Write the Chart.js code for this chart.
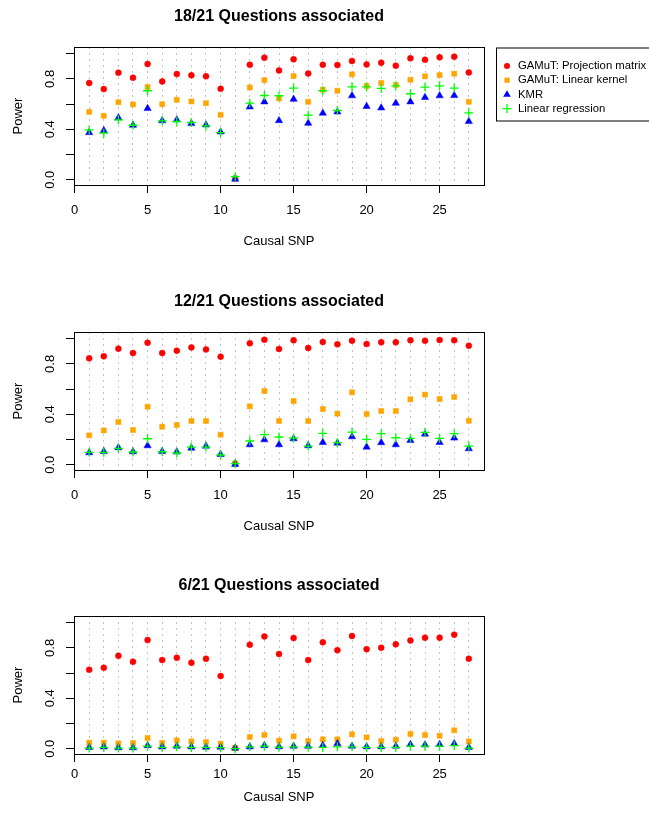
<!DOCTYPE html>
<html>
<head>
<meta charset="utf-8">
<script src="https://cdn.jsdelivr.net/npm/chart.js@4"></script>
<style>
  html, body { margin: 0; padding: 0; background: #fff; overflow: hidden; }
  #wrap { position: relative; width: 649px; height: 817px; }
  canvas { position: absolute; left: 0; }
</style>
</head>
<body>
<div id="wrap">
  <canvas id="c1" width="649" height="285" style="top:0px"></canvas>
  <canvas id="c2" width="649" height="285" style="top:285px"></canvas>
  <canvas id="c3" width="649" height="285" style="top:569px"></canvas>
</div>
<script>
const snps = [1,2,3,4,5,6,7,8,9,10,11,12,13,14,15,16,17,18,19,20,21,22,23,24,25,26,27];
const xTicks = [0, 5, 10, 15, 20, 25];
const yTicks = [0, 0.2, 0.4, 0.6, 0.8, 1.0];
const yLabels = [0, 0.4, 0.8];
const seriesNames = ['GAMuT: Projection matrix', 'GAMuT: Linear kernel', 'KMR', 'Linear regression'];

// 18/21 questions associated
const proj18 = [0.767,0.719,0.849,0.809,0.918,0.780,0.838,0.828,0.820,0.721,0.01,0.912,0.968,0.867,0.955,0.843,0.912,0.910,0.942,0.915,0.928,0.905,0.963,0.952,0.971,0.976,0.851];
const lin18  = [0.538,0.507,0.615,0.597,0.735,0.599,0.634,0.621,0.607,0.515,0.01,0.732,0.790,0.645,0.822,0.618,0.714,0.706,0.836,0.743,0.767,0.751,0.793,0.820,0.830,0.841,0.618];
const kmr18  = [0.374,0.390,0.491,0.432,0.565,0.469,0.475,0.446,0.435,0.379,0.005,0.578,0.618,0.469,0.639,0.448,0.528,0.538,0.666,0.581,0.570,0.607,0.618,0.653,0.666,0.668,0.462];
const reg18  = [0.395,0.369,0.475,0.432,0.706,0.467,0.462,0.454,0.427,0.374,0.024,0.607,0.668,0.666,0.727,0.512,0.706,0.549,0.737,0.737,0.724,0.745,0.682,0.735,0.745,0.727,0.531];

// 12/21 questions associated
const proj12 = [0.844,0.860,0.921,0.886,0.968,0.886,0.905,0.931,0.915,0.857,0.01,0.963,0.992,0.918,0.987,0.926,0.974,0.955,0.984,0.958,0.971,0.971,0.987,0.984,0.989,0.987,0.944];
const lin12  = [0.233,0.272,0.339,0.275,0.460,0.302,0.315,0.347,0.347,0.238,0.01,0.463,0.585,0.347,0.505,0.347,0.442,0.405,0.574,0.402,0.426,0.426,0.519,0.556,0.521,0.537,0.349];
const kmr12  = [0.095,0.106,0.135,0.103,0.151,0.106,0.101,0.132,0.148,0.082,0.003,0.159,0.198,0.159,0.206,0.151,0.177,0.172,0.222,0.140,0.175,0.159,0.193,0.243,0.177,0.212,0.127];
const reg12  = [0.098,0.098,0.130,0.101,0.206,0.103,0.093,0.140,0.140,0.077,0.008,0.188,0.238,0.220,0.212,0.148,0.249,0.175,0.259,0.201,0.246,0.214,0.209,0.257,0.209,0.246,0.148];

// 6/21 questions associated
const proj6 = [0.626,0.642,0.737,0.690,0.862,0.703,0.721,0.682,0.714,0.576,0.005,0.825,0.891,0.751,0.878,0.703,0.844,0.782,0.894,0.790,0.801,0.828,0.859,0.881,0.881,0.905,0.714];
const lin6  = [0.048,0.048,0.042,0.045,0.085,0.045,0.066,0.058,0.053,0.040,0.005,0.093,0.109,0.064,0.098,0.061,0.074,0.074,0.114,0.090,0.061,0.072,0.117,0.109,0.103,0.146,0.058];
const kmr6  = [0.010,0.015,0.008,0.008,0.025,0.015,0.020,0.015,0.012,0.012,0.005,0.015,0.025,0.016,0.020,0.020,0.026,0.040,0.020,0.016,0.016,0.020,0.034,0.030,0.034,0.040,0.010];
const reg6  = [0.005,0.010,0.005,0.005,0.020,0.010,0.015,0.010,0.010,0.008,0.000,0.015,0.020,0.012,0.015,0.012,0.010,0.015,0.015,0.010,0.010,0.010,0.020,0.020,0.020,0.025,0.005];

const styles = [
  { color: '#ff0000', pointStyle: 'circle',   radius: 3,   order: 4 },
  { color: '#ffa500', pointStyle: 'rect',     radius: 3.6, order: 3 },
  { color: '#0000ff', pointStyle: 'triangle', radius: 4.2, order: 2 },
  { color: '#00ff00', pointStyle: 'cross',    radius: 4.5, order: 1 }
];

const FONT = 'Liberation Sans, Arial, Helvetica, sans-serif';

const rDecor = {
  id: 'rDecor',
  afterDraw(chart, args, opts) {
    const ctx = chart.ctx;
    const a = chart.chartArea;
    const ys = chart.scales.y;
    ctx.save();
    // box
    ctx.strokeStyle = '#000';
    ctx.lineWidth = 1;
    ctx.strokeRect(Math.round(a.left) + 0.5, Math.round(a.top) + 0.5, Math.round(a.right - a.left), Math.round(a.bottom - a.top));
    ctx.fillStyle = '#000';
    // title
    ctx.font = 'bold 16px ' + FONT;
    ctx.textAlign = 'center';
    ctx.textBaseline = 'middle';
    ctx.fillText(opts.title, (a.left + a.right) / 2, 17);
    // x label
    ctx.font = '13px ' + FONT;
    ctx.fillText('Causal SNP', (a.left + a.right) / 2, opts.xlabY);
    // y tick labels (rotated like R)
    yLabels.forEach(v => {
      ctx.save();
      ctx.translate(50, ys.getPixelForValue(v));
      ctx.rotate(-Math.PI / 2);
      ctx.fillText(v.toFixed(1), 0, 0);
      ctx.restore();
    });
    ctx.save();
    ctx.translate(18, (a.top + a.bottom) / 2);
    ctx.rotate(-Math.PI / 2);
    ctx.fillText('Power', 0, 0);
    ctx.restore();
    // legend
    if (opts.legend) {
      const lx = 496, top = 47.5;
      ctx.strokeRect(lx + 0.5, top + 0.5, 200, 73);
      ctx.font = '11.3px ' + FONT;
      ctx.textAlign = 'left';
      chart.data.datasets.forEach((ds, i) => {
        const y = 66 + i * 14.2;
        const x = 507;
        ctx.fillStyle = ds.backgroundColor;
        ctx.strokeStyle = ds.borderColor;
        ctx.beginPath();
        if (ds.pointStyle === 'circle') {
          ctx.arc(x, y, 3, 0, Math.PI * 2); ctx.fill();
        } else if (ds.pointStyle === 'rect') {
          ctx.fillRect(x - 2.6, y - 2.6, 5.2, 5.2);
        } else if (ds.pointStyle === 'triangle') {
          ctx.moveTo(x, y - 4.2); ctx.lineTo(x + 3.8, y + 2.4); ctx.lineTo(x - 3.8, y + 2.4); ctx.closePath(); ctx.fill();
        } else {
          ctx.lineWidth = 1.3;
          ctx.moveTo(x - 4.5, y); ctx.lineTo(x + 4.5, y); ctx.moveTo(x, y - 4.5); ctx.lineTo(x, y + 4.5); ctx.stroke();
        }
        ctx.fillStyle = '#000';
        ctx.fillText(ds.label, 518, y);
      });
    }
    ctx.restore();
  }
};

function makeChart(id, title, series, legend, tickPad, xlabY) {
  const datasets = series.map((vals, i) => ({
    label: seriesNames[i],
    data: snps.map((s, j) => ({ x: s, y: vals[j] })),
    pointStyle: styles[i].pointStyle,
    pointRadius: styles[i].radius,
    pointHoverRadius: styles[i].radius,
    backgroundColor: styles[i].color,
    borderColor: styles[i].color,
    pointBorderWidth: styles[i].pointStyle === 'cross' ? 1.3 : 0.5,
    order: styles[i].order,
    xAxisID: 'x',
    yAxisID: 'y'
  }));
  return new Chart(document.getElementById(id).getContext('2d'), {
    type: 'scatter',
    data: { datasets },
    options: {
      responsive: false,
      animation: false,
      devicePixelRatio: 1,
      layout: { padding: { top: 47, left: 0, right: 165, bottom: 0 } },
      plugins: {
        legend: { display: false },
        tooltip: { enabled: false },
        rDecor: { title, legend, xlabY }
      },
      scales: {
        x: {
          type: 'linear', position: 'bottom', min: -0.04, max: 28.04,
          afterBuildTicks: s => { s.ticks = xTicks.map(v => ({ value: v })); },
          afterFit: s => { s.height = 285 - 185; },
          grid: { drawOnChartArea: false, drawTicks: true, tickLength: 8, color: '#000' },
          border: { display: false },
          ticks: { color: '#000', padding: tickPad, maxRotation: 0, font: { size: 13, family: FONT } }
        },
        xg: {
          type: 'linear', position: 'top', min: -0.04, max: 28.04,
          afterBuildTicks: s => { s.ticks = snps.map(v => ({ value: v })); },
          afterFit: s => { s.height = 0; },
          grid: { drawOnChartArea: true, drawTicks: false, color: '#c4c4c4', lineWidth: 1 },
          border: { display: false, dash: [2, 4] },
          ticks: { display: false }
        },
        y: {
          type: 'linear', position: 'left', min: -0.042, max: 1.053,
          afterBuildTicks: s => { s.ticks = yTicks.map(v => ({ value: v })); },
          afterFit: s => { s.width = 74; },
          grid: { drawOnChartArea: false, drawTicks: true, tickLength: 8, color: '#000' },
          border: { display: false },
          ticks: { display: false }
        }
      }
    },
    plugins: [rDecor]
  });
}

makeChart('c1', '18/21 Questions associated', [proj18, lin18, kmr18, reg18], true, 10, 241);
makeChart('c2', '12/21 Questions associated', [proj12, lin12, kmr12, reg12], false, 10, 241);
makeChart('c3', '6/21 Questions associated', [proj6, lin6, kmr6, reg6], false, 5, 228);
</script>
</body>
</html>
